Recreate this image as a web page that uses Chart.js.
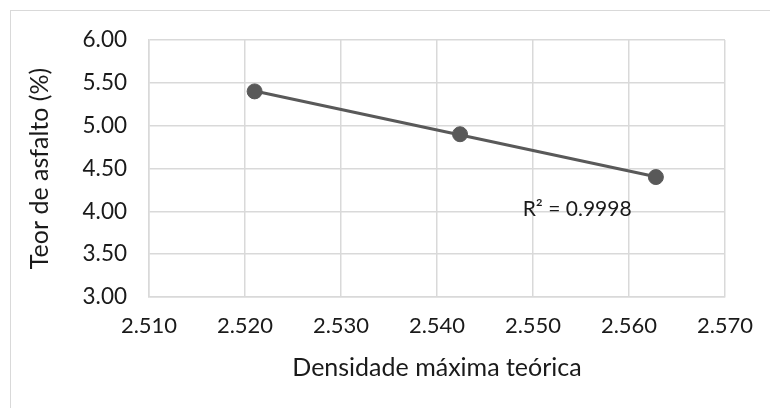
<!DOCTYPE html>
<html>
<head>
<meta charset="utf-8">
<script src="https://cdn.jsdelivr.net/npm/chart.js@4/dist/chart.umd.min.js"></script>
<style>
  html, body { margin: 0; padding: 0; background: #fff; }
  #wrap { position: relative; width: 770px; height: 408px; overflow: hidden; background: #fff; }
  #frame { position: absolute; left: 10px; top: 10px; width: 900px; height: 600px; border: 1.5px solid #d9d9d9; box-sizing: border-box; }
  #c { position: absolute; left: 0; top: 0; }
</style>
</head>
<body>
<div id="wrap">
  <div id="frame"></div>
  <canvas id="c" width="770" height="408"></canvas>
</div>
<script>
// Data
const densidade = [2.5210, 2.5424, 2.5628];   // Densidade máxima teórica
const teorAsfalto = [5.40, 4.90, 4.40];       // Teor de asfalto (%)
const xTickRange = [2.51, 2.57, 0.01];
const yTickRange = [3.00, 6.00, 0.50];
const xTitle = 'Densidade máxima teórica';
const yTitle = 'Teor de asfalto (%)';
const r2Label = 'R² = 0.9998';
const r2Anchor = [2.5546, 4.03];

// Linear trendline (least squares) from the data
function linFit(xs, ys) {
  const n = xs.length;
  const mx = xs.reduce((a, b) => a + b, 0) / n;
  const my = ys.reduce((a, b) => a + b, 0) / n;
  let sxy = 0, sxx = 0;
  for (let i = 0; i < n; i++) { sxy += (xs[i] - mx) * (ys[i] - my); sxx += (xs[i] - mx) ** 2; }
  const m = sxy / sxx;
  return { m, b: my - m * mx };
}
const fit = linFit(densidade, teorAsfalto);
const xMin = Math.min(...densidade), xMax = Math.max(...densidade);
const trend = [xMin, xMax].map(x => ({ x, y: fit.m * x + fit.b }));
const points = densidade.map((x, i) => ({ x, y: teorAsfalto[i] }));

const FONT = 'Lato, "Liberation Sans", sans-serif';
const TXT = '#1a1a1a';
const GRID = '#d9d9d9';
const SERIES = '#595959';

const r2Plugin = {
  id: 'r2',
  afterDatasetsDraw(chart) {
    const { ctx, scales } = chart;
    const px = scales.x.getPixelForValue(r2Anchor[0]);
    const py = scales.y.getPixelForValue(r2Anchor[1]);
    ctx.save();
    ctx.font = '21px ' + FONT;
    ctx.fillStyle = TXT;
    ctx.textAlign = 'center';
    ctx.textBaseline = 'middle';
    ctx.fillText(r2Label, px, py);
    ctx.restore();
  }
};

new Chart(document.getElementById('c'), {
  type: 'scatter',
  data: {
    datasets: [
      {
        type: 'line',
        data: trend,
        borderColor: SERIES,
        borderWidth: 3,
        pointRadius: 0,
        fill: false,
        order: 2
      },
      {
        data: points,
        backgroundColor: SERIES,
        borderColor: SERIES,
        pointRadius: 7.5,
        pointHoverRadius: 7.5,
        showLine: false,
        order: 1
      }
    ]
  },
  options: {
    responsive: false,
    animation: false,
    events: [],
    layout: { padding: { left: 25, right: 45, top: 40, bottom: 16 } },
    plugins: { legend: { display: false }, tooltip: { enabled: false } },
    scales: {
      x: {
        type: 'linear',
        min: xTickRange[0], max: xTickRange[1],
        ticks: {
          stepSize: xTickRange[2],
          color: TXT,
          font: { family: FONT, size: 22 },
          padding: 16,
          callback: v => v.toFixed(3)
        },
        grid: { color: GRID, lineWidth: 1.5, drawTicks: false },
        border: { color: GRID, width: 1.5 },
        title: { display: true, text: xTitle, color: TXT, font: { family: FONT, size: 25 }, padding: { top: 12, bottom: 9 } },
        afterFit: s => { s.height = 408 - 297 - 16; }
      },
      y: {
        type: 'linear',
        min: yTickRange[0], max: yTickRange[1],
        ticks: {
          stepSize: yTickRange[2],
          color: TXT,
          font: { family: FONT, size: 22.5 },
          padding: 22,
          callback: v => v.toFixed(2)
        },
        grid: { color: GRID, lineWidth: 1.5, drawTicks: false },
        border: { color: GRID, width: 1.5 },
        title: { display: true, text: yTitle, color: TXT, font: { family: FONT, size: 25 }, padding: { top: 0, bottom: 6 } },
        afterFit: s => { s.width = 149 - 25; }
      }
    }
  },
  plugins: [r2Plugin]
});
</script>
</body>
</html>
